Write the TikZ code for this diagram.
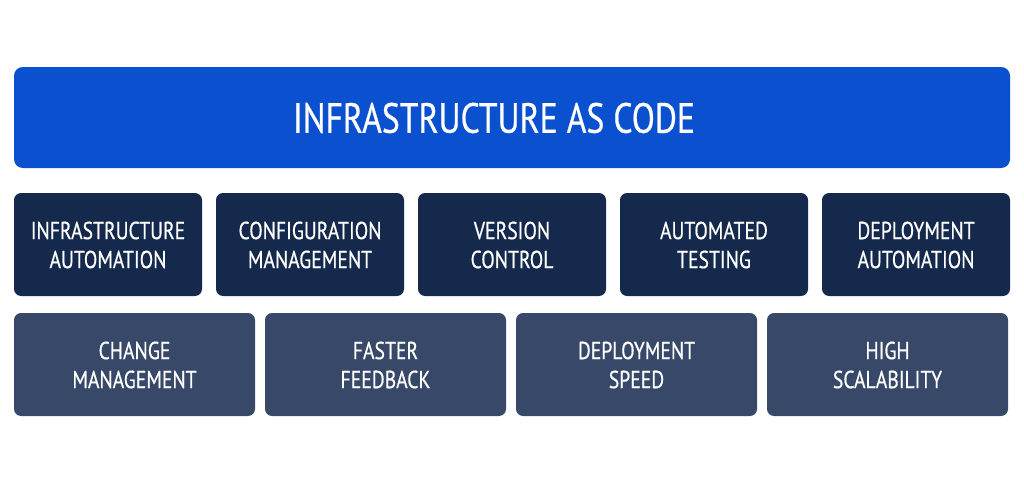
\documentclass[tikz,border=0pt]{standalone}
\usepackage{fontspec}
\setmainfont{PT Sans}[FakeStretch=0.8,FakeBold=0.5]
\definecolor{banner}{HTML}{0A50CF}
\definecolor{navy}{HTML}{15294C}
\definecolor{slate}{HTML}{374868}
\tikzset{
  box/.style={rounded corners=4pt, text=white, align=center, font=\fontsize{14}{16.5}\selectfont},
}
\begin{document}
\begin{tikzpicture}[x=0.02cm,y=-0.02cm]
\useasboundingbox (0,0) rectangle (1024,480);
\fill[banner, rounded corners=5pt] (14,67) rectangle (1010,168);
\node[text=white, font=\fontsize{24}{28}\selectfont] (title) at (494,118) {INFRASTRUCTURE AS CODE};
\foreach \x/\t [count=\i] in {14/{INFRASTRUCTURE\\AUTOMATION},216/{CONFIGURATION\\MANAGEMENT},418/{VERSION\\CONTROL},620/{AUTOMATED\\TESTING},822/{DEPLOYMENT\\AUTOMATION}}{
  \fill[navy, rounded corners=4pt] (\x,193) rectangle ++(188,103);
  \node[box] (a\i) at (\x+94,245) {\t};
}
\foreach \x/\t [count=\i] in {14/{CHANGE\\MANAGEMENT},265/{FASTER\\FEEDBACK},516/{DEPLOYMENT\\SPEED},767/{HIGH\\SCALABILITY}}{
  \fill[slate, rounded corners=4pt] (\x,313) rectangle ++(241,103);
  \node[box] (b\i) at (\x+120.5,365) {\t};
}
\end{tikzpicture}
\end{document}
